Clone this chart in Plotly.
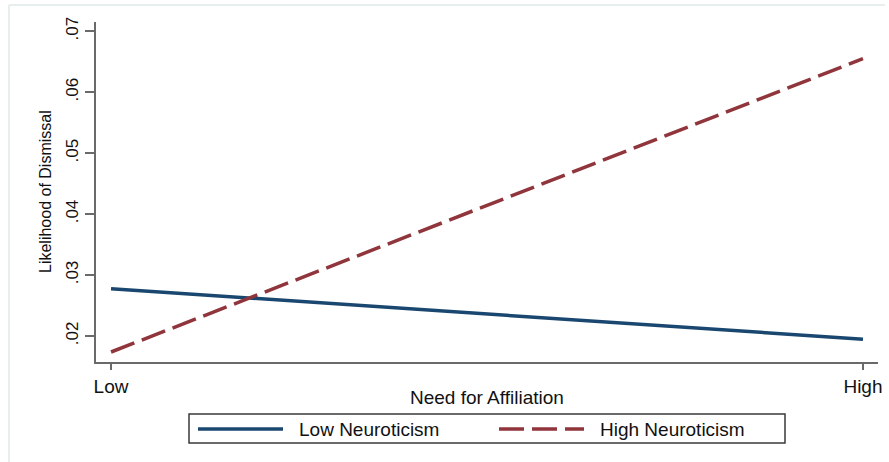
import plotly.graph_objects as go

# ---- data ----
x_labels = ["Low", "High"]
x_pos = [0, 1]
low_neuro = [0.02775, 0.01948]
high_neuro = [0.01738, 0.06548]
y_tickvals = [0.02, 0.03, 0.04, 0.05, 0.06, 0.07]
y_ticktext = [".02", ".03", ".04", ".05", ".06", ".07"]
series_names = ["Low Neuroticism", "High Neuroticism"]

BLUE = "#1a476f"
RED = "#90353b"
AXIS = "#6a6a6a"
FONT = "Liberation Sans, Arial, sans-serif"

W, H = 889, 462
L, R, T, B = 96, 11, 22, 100
pw, ph = W - L - R, H - T - B


def px(xp):
    return (xp - L) / pw


def py(yp):
    return (H - B - yp) / ph


fig = go.Figure()
fig.add_trace(go.Scatter(x=x_pos, y=low_neuro, mode="lines", name=series_names[0],
                         line=dict(color=BLUE, width=3.5), showlegend=False, cliponaxis=False))
fig.add_trace(go.Scatter(x=x_pos, y=high_neuro, mode="lines", name=series_names[1],
                         line=dict(color=RED, width=3.5, dash="25px,8px"), showlegend=False,
                         cliponaxis=False))

fig.update_layout(
    width=W, height=H,
    margin=dict(l=L, r=R, t=T, b=B, autoexpand=False),
    paper_bgcolor="white", plot_bgcolor="white",
    font=dict(family=FONT, color="#111111"),
    xaxis=dict(range=[-0.02, 1.02], tickvals=x_pos, ticktext=x_labels,
               showgrid=False, zeroline=False, showline=True, linecolor=AXIS, linewidth=1.5,
               ticks="outside", ticklen=6, tickcolor=AXIS, tickwidth=1.5,
               tickfont=dict(size=19, family=FONT), fixedrange=True),
    yaxis=dict(range=[0.01574, 0.0715], tickvals=y_tickvals, ticktext=y_ticktext,
               showgrid=False, zeroline=False, showline=True, linecolor=AXIS, linewidth=1.5,
               ticks="outside", ticklen=9, tickcolor=AXIS, tickwidth=1.5, tickangle=-90,
               tickfont=dict(size=17, family=FONT), fixedrange=True),
    showlegend=False,
)

# axis titles
fig.add_annotation(text="Need for Affiliation", x=px(487), y=py(397), xref="paper", yref="paper",
                   showarrow=False, font=dict(size=19, family=FONT, color="#111111"),
                   xanchor="center", yanchor="middle")
fig.add_annotation(text="Likelihood of Dismissal", x=px(45), y=py(192), xref="paper", yref="paper",
                   showarrow=False, textangle=-90, font=dict(size=16, family=FONT, color="#111111"),
                   xanchor="center", yanchor="middle")

# faint outer frame (left and top)
frame = "#e6eeee"
fig.add_shape(type="line", xref="paper", yref="paper", x0=px(9), x1=px(9), y0=py(5), y1=py(462),
              line=dict(color=frame, width=2))
fig.add_shape(type="line", xref="paper", yref="paper", x0=px(9), x1=px(885), y0=py(5), y1=py(5),
              line=dict(color=frame, width=2))

# legend (manual)
fig.add_shape(type="rect", xref="paper", yref="paper", x0=px(189), x1=px(785), y0=py(414), y1=py(443),
              line=dict(color="#3a3a3a", width=1.5), fillcolor="white")
fig.add_shape(type="line", xref="paper", yref="paper", x0=px(198), x1=px(283), y0=py(429), y1=py(429),
              line=dict(color=BLUE, width=3.5))
fig.add_shape(type="line", xref="paper", yref="paper", x0=px(499), x1=px(584), y0=py(429), y1=py(429),
              line=dict(color=RED, width=3.5, dash="25px,8px"))
fig.add_annotation(text=series_names[0], x=px(297), y=py(429), xref="paper", yref="paper",
                   showarrow=False, xanchor="left", yanchor="middle",
                   font=dict(size=19, family=FONT, color="#111111"))
fig.add_annotation(text=series_names[1], x=px(598), y=py(429), xref="paper", yref="paper",
                   showarrow=False, xanchor="left", yanchor="middle",
                   font=dict(size=19, family=FONT, color="#111111"))

fig.write_html(
    "out.html",
    config={"displayModeBar": False},
    post_script="document.body.style.margin='0';document.body.style.overflow='hidden';",
)
